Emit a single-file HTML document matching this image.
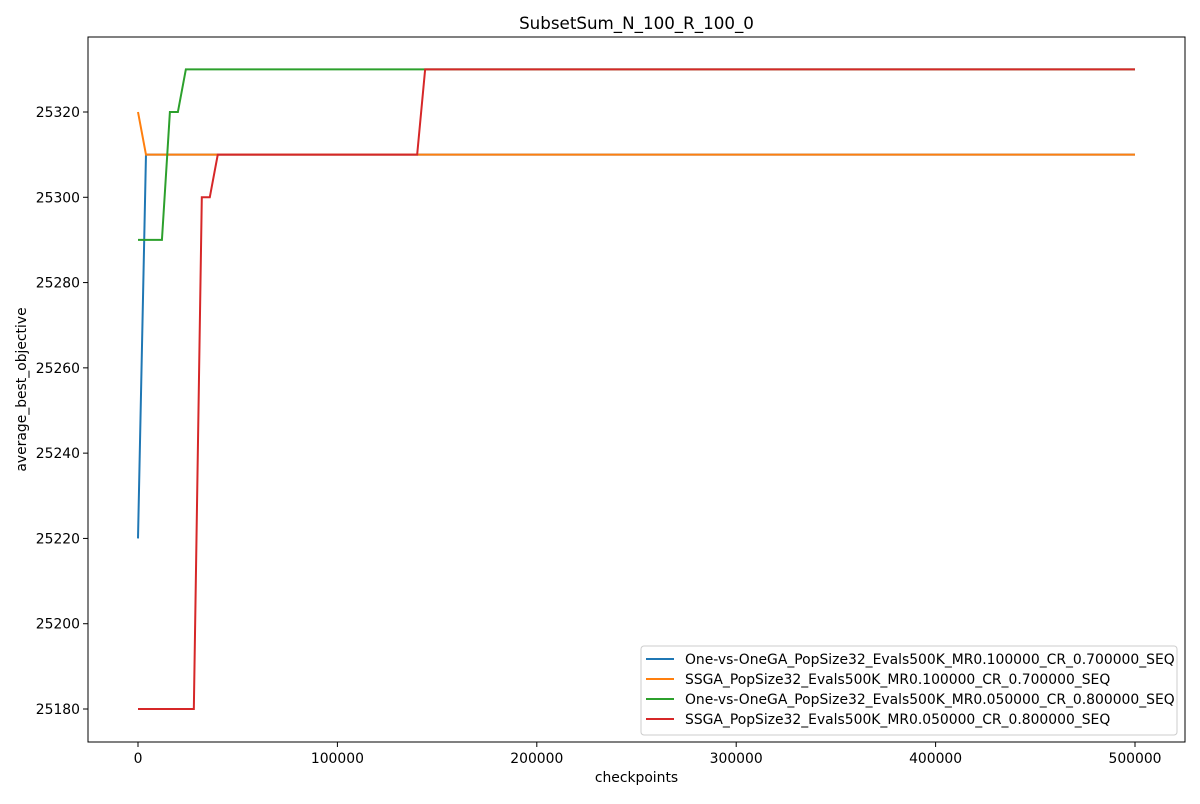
<!DOCTYPE html>
<html><head><meta charset="utf-8"><style>
body{margin:0;background:#fff;font-family:"DejaVu Sans","Liberation Sans",sans-serif;}
svg text{font-family:"DejaVu Sans","Liberation Sans",sans-serif;}
</style></head><body>
<svg id="chart" width="1200" height="800" xmlns="http://www.w3.org/2000/svg"></svg>
<script>
const xTicks=[0,100000,200000,300000,400000,500000];
const yTicks=[25180,25200,25220,25240,25260,25280,25300,25320];
const seriesNames=["One-vs-OneGA_PopSize32_Evals500K_MR0.100000_CR_0.700000_SEQ","SSGA_PopSize32_Evals500K_MR0.100000_CR_0.700000_SEQ","One-vs-OneGA_PopSize32_Evals500K_MR0.050000_CR_0.800000_SEQ","SSGA_PopSize32_Evals500K_MR0.050000_CR_0.800000_SEQ"];
const seriesColors=["#1f77b4","#ff7f0e","#2ca02c","#d62728"];
const blueX=[0,4000,500000];
const blueY=[25220,25310,25310];
const orangeX=[0,4000,500000];
const orangeY=[25320,25310,25310];
const greenX=[0,12000,16000,20000,24000,500000];
const greenY=[25290,25290,25320,25320,25330,25330];
const redX=[0,28000,32000,36000,40000,140000,144000,500000];
const redY=[25180,25180,25300,25300,25310,25310,25330,25330];
const seriesX=[blueX,orangeX,greenX,redX];
const seriesY=[blueY,orangeY,greenY,redY];

const L=88,R=1185,T=37,B=742;
const xs=v=>138+(v-0)*(997/500000);
const ys=v=>709-(v-25180)*(597/140);
const svg=document.getElementById('chart');
const NS="http://www.w3.org/2000/svg";
function mk(tag,attrs,parent){const e=document.createElementNS(NS,tag);for(const k in attrs)e.setAttribute(k,attrs[k]);(parent||svg).appendChild(e);return e;}

const frame=mk('rect',{x:L,y:T,width:R-L,height:B-T,fill:'none',stroke:'#000','stroke-width':1});



const title=mk('text',{x:(L+R)/2,y:29,'text-anchor':'middle','font-size':16.7});
title.textContent='SubsetSum_N_100_R_100_0';



xTicks.forEach(v=>{
  const x=xs(v);
  const t=mk('line',{x1:x,x2:x,y1:B,y2:B+5,stroke:'#000'});
  
  
  const l=mk('text',{x:x,y:B+21,'text-anchor':'middle','font-size':13.9});
  l.textContent=v;
  
  
});
yTicks.forEach(v=>{
  const y=ys(v);
  const t=mk('line',{x1:L-5,x2:L,y1:y,y2:y,stroke:'#000'});
  
  
  const l=mk('text',{x:L-8,y:y+5,'text-anchor':'end','font-size':13.9});
  l.textContent=v;
  
  
});
const xt=mk('text',{x:(L+R)/2,y:782,'text-anchor':'middle','font-size':13.9});
xt.textContent='checkpoints';


const yt=mk('text',{x:0,y:0,'text-anchor':'middle','font-size':13.9,transform:`translate(26,${(T+B)/2}) rotate(-90)`});
yt.textContent='average_best_objective';



seriesX.forEach((xa,i)=>{
  const pts=xa.map((x,j)=>xs(x)+','+ys(seriesY[i][j])).join(' ');
  const p=mk('polyline',{points:pts,fill:'none',stroke:seriesColors[i],'stroke-width':2});
  
  
});

const lg=mk('g',{});


mk('rect',{x:641,y:646,width:536,height:89,rx:3,fill:'#fff','fill-opacity':0.8,stroke:'#ccc'},lg);
seriesNames.forEach((n,i)=>{
  const y=659+i*20;
  const g=mk('g',{},lg);
  
  
  mk('line',{x1:646,x2:674,y1:y,y2:y,stroke:seriesColors[i],'stroke-width':2},g);
  const t=mk('text',{x:685,y:y+5,'font-size':13.9},g);
  t.textContent=n;
});
</script>
</body></html>
